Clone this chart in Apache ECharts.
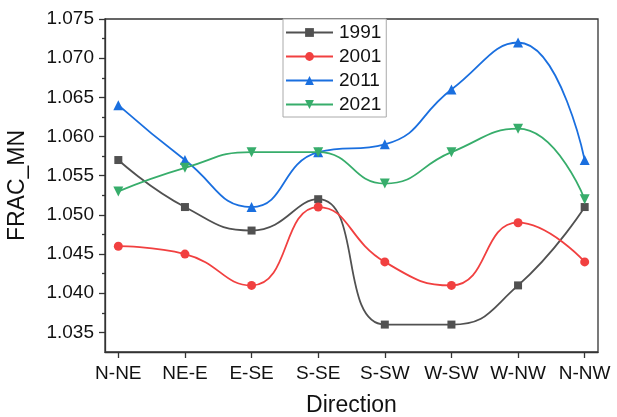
<!DOCTYPE html>
<html><head><meta charset="utf-8">
<script src="https://cdn.jsdelivr.net/npm/echarts@6/dist/echarts.min.js"></script>
<style>html,body{margin:0;padding:0;background:#fff}#c{width:617px;height:417px}</style>
</head><body><div id="c"></div>
<script>
var categories = ['N-NE','NE-E','E-SE','S-SE','S-SW','W-SW','W-NW','N-NW'];
var s1991 = [1.057,1.051,1.048,1.052,1.036,1.036,1.041,1.051];
var s2001 = [1.046,1.045,1.041,1.051,1.044,1.041,1.049,1.044];
var s2011 = [1.064,1.057,1.051,1.058,1.059,1.066,1.072,1.057];
var s2021 = [1.053,1.056,1.058,1.058,1.054,1.058,1.061,1.052];
var yTicks = [1.035,1.040,1.045,1.050,1.055,1.060,1.065,1.070,1.075];
var yMinor = [1.0375,1.0425,1.0475,1.0525,1.0575,1.0625,1.0675,1.0725];

var FONT = '"Liberation Sans", Arial, sans-serif';
var idx = categories.map(function(c,i){return i;});
function pts(arr){return arr.map(function(v,i){return [i,v];});}
function mk(name, arr, color, symbol, size, rot){
  return {name:name,type:'line',data:pts(arr),smooth:0.5,symbol:symbol,symbolSize:size,symbolRotate:rot||0,
    lineStyle:{color:color,width:1.8},itemStyle:{color:color},emphasis:{disabled:true},z:3};
}
var chart = echarts.init(document.getElementById('c'));
chart.setOption({
  animation:false,
  grid:{left:105,right:19,top:19,bottom:65,show:true,borderColor:'#333',borderWidth:1.3,containLabel:false,outerBoundsMode:'none'},
  legend:{orient:'vertical',left:283,top:19,padding:[4,5,3,2],itemWidth:47,itemHeight:11,itemGap:5,
    borderColor:'#aaa',borderWidth:1,backgroundColor:'#fff',
    textStyle:{fontFamily:FONT,fontSize:19,color:'#111',padding:[0,0,0,1]},
    data:['1991','2001','2011','2021']},
  xAxis:[{type:'value',min:-0.2,max:7.2,name:'Direction',nameLocation:'middle',nameGap:42,
    nameTextStyle:{fontFamily:FONT,fontSize:23,color:'#111'},
    axisLine:{show:true,onZero:false,lineStyle:{color:'#333',width:1.3}},
    axisTick:{show:true,customValues:idx,length:6,lineStyle:{color:'#333',width:1.3}},
    axisLabel:{customValues:idx,margin:12,fontFamily:FONT,fontSize:19,color:'#111',
      formatter:function(v){return categories[Math.round(v)];}},
    splitLine:{show:false}}],
  yAxis:[{type:'value',min:1.0325,max:1.075,name:'FRAC_MN',nameLocation:'middle',nameGap:76,
    nameTextStyle:{fontFamily:FONT,fontSize:23,color:'#111'},
    axisLine:{show:true,onZero:false,lineStyle:{color:'#333',width:1.3}},
    axisTick:{show:true,customValues:yTicks,length:6,lineStyle:{color:'#333',width:1.3}},
    axisLabel:{customValues:yTicks,margin:11,fontFamily:FONT,fontSize:19,color:'#111',
      formatter:function(v){return v.toFixed(3);}},
    splitLine:{show:false}},
   {type:'value',position:'left',offset:0,min:1.0325,max:1.075,
    axisLine:{show:false,onZero:false},
    axisTick:{show:true,customValues:yMinor,length:3,lineStyle:{color:'#333',width:1.3}},
    axisLabel:{show:false},splitLine:{show:false}}],
  series:[
    mk('1991',s1991,'#515151','rect',8),
    mk('2001',s2001,'#F14040','circle',9),
    mk('2011',s2011,'#1A6FDF','triangle',10),
    mk('2021',s2021,'#37AD6B','triangle',10,180)
  ]
});
</script></body></html>
